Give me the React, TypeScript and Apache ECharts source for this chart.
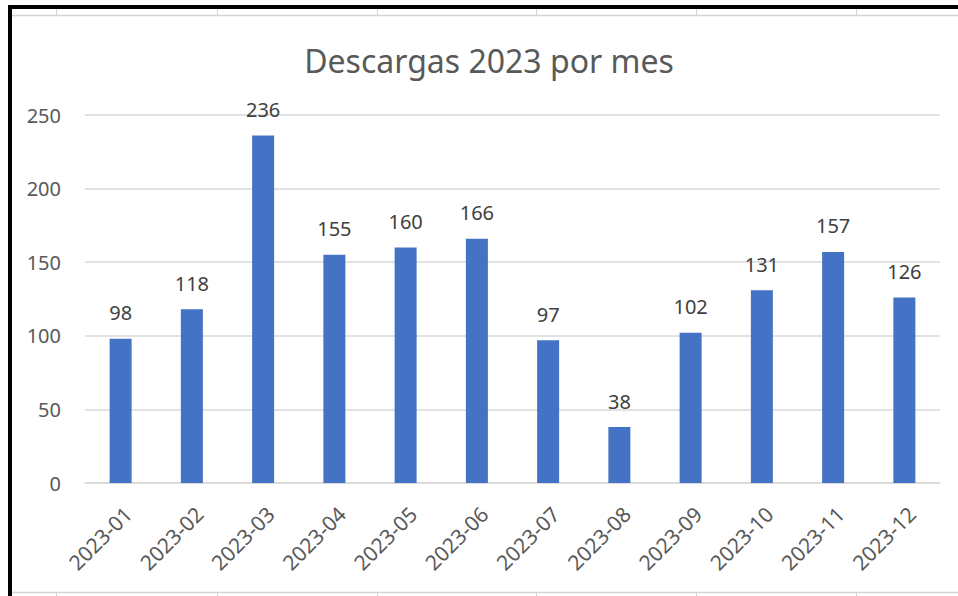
import React, { useEffect, useRef } from "react";
import * as echarts from "echarts";

const categories = [
  "2023-01", "2023-02", "2023-03", "2023-04", "2023-05", "2023-06",
  "2023-07", "2023-08", "2023-09", "2023-10", "2023-11", "2023-12",
];
const downloads = [98, 118, 236, 155, 160, 166, 97, 38, 102, 131, 157, 126];
const yMin = 0;
const yMax = 250;
const yInterval = 50;
const titleText = "Descargas 2023 por mes";
const sheetColumns = [56, 217, 377, 536, 696, 856];

const FONT = "'Noto Sans', 'Open Sans', sans-serif";

export default function App() {
  const ref = useRef<HTMLDivElement>(null);
  useEffect(() => {
    const chart = echarts.init(ref.current!, null, { renderer: "svg" });
    const graphics: any[] = [];
    // spreadsheet gridlines
    graphics.push({ type: "line", shape: { x1: 12, y1: 15.5, x2: 958, y2: 15.5 }, style: { stroke: "#d4d4d4", lineWidth: 1.5 }, silent: true });
    graphics.push({ type: "line", shape: { x1: 12, y1: 592.5, x2: 958, y2: 592.5 }, style: { stroke: "#d4d4d4", lineWidth: 1.5 }, silent: true });
    sheetColumns.forEach((x) => {
      graphics.push({ type: "line", shape: { x1: x + 0.5, y1: 9, x2: x + 0.5, y2: 16 }, style: { stroke: "#d4d4d4", lineWidth: 1 }, silent: true });
      graphics.push({ type: "line", shape: { x1: x + 0.5, y1: 592, x2: x + 0.5, y2: 596 }, style: { stroke: "#d4d4d4", lineWidth: 1 }, silent: true });
    });
    // black frame
    graphics.push({ type: "rect", shape: { x: 8, y: 5, width: 950, height: 4 }, style: { fill: "#000" }, silent: true });
    graphics.push({ type: "rect", shape: { x: 8, y: 5, width: 4, height: 591 }, style: { fill: "#000" }, silent: true });

    chart.setOption({
      animation: false,
      backgroundColor: "#ffffff",
      title: {
        text: titleText,
        left: 484,
        textAlign: "center",
        top: 39,
        textStyle: { fontFamily: FONT, fontSize: 32, fontWeight: "normal", color: "#595959" },
      },
      grid: { left: 85, right: 18, top: 115, bottom: 113, containLabel: false },
      xAxis: {
        type: "category",
        data: categories,
        axisLine: { show: true, lineStyle: { color: "#d9d9d9", width: 1.5 } },
        axisTick: { show: false },
        axisLabel: { rotate: 45, margin: 20, verticalAlign: "top", fontFamily: FONT, fontSize: 21, color: "#595959", interval: 0 },
      },
      yAxis: {
        type: "value",
        min: yMin,
        max: yMax,
        interval: yInterval,
        axisLine: { show: false },
        axisTick: { show: false },
        splitLine: { lineStyle: { color: "#d9d9d9", width: 1.5 } },
        axisLabel: { margin: 24, fontFamily: FONT, fontSize: 20, color: "#595959" },
      },
      series: [
        {
          type: "bar",
          data: downloads,
          barWidth: 22,
          itemStyle: { color: "#4472C4" },
          label: { show: true, position: "top", distance: 16, fontFamily: FONT, fontSize: 20, color: "#404040" },
        },
      ],
      graphic: graphics,
    });
    return () => chart.dispose();
  }, []);
  return (
    <div
      ref={ref}
      style={{ position: "absolute", left: 0, top: 0, width: 958, height: 596, background: "#fff" }}
    />
  );
}
